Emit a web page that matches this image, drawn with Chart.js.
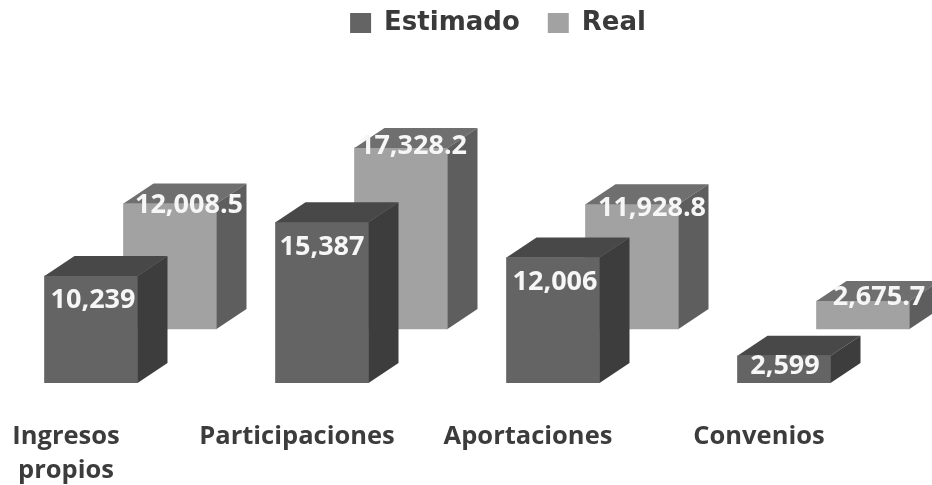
<!DOCTYPE html>
<html>
<head>
<meta charset="utf-8">
<title>Estimado vs Real</title>
<script src="https://cdn.jsdelivr.net/npm/chart.js@4/dist/chart.umd.min.js"></script>
<style>
    html, body { margin: 0; padding: 0; background: #fff; }
    canvas { display: block; filter: blur(0.5px); }
</style>
</head>
<body>
<canvas id="chart" width="932" height="485"></canvas>
<script>
// Chart data
const categories = [['Ingresos', 'propios'], ['Participaciones'], ['Aportaciones'], ['Convenios']];
const estimado = [10239, 15387, 12006, 2599];
const real = [12008.5, 17328.2, 11928.8, 2675.7];
const estimadoText = ['10,239', '15,387', '12,006', '2,599'];
const realText = ['12,008.5', '17,328.2', '11,928.8', '2,675.7'];

// Layout of the fake 3D boxes, in pixels
const plotLeft = 10, plotRight = 922, plotTop = 64, plotBottom = 383;
const catStep = 231;
const firstCenter = 91;
const backShiftX = 79, backShiftY = 54;
const depthX = 30, depthY = 20;
const pxPerUnit = 0.01045;

// Label nudges from the centre of each front face top edge [dx, dy]
const labelNudge = [
    [[2, 24], [0, 25], [2, 25], [1, 10]],
    [[19, 2], [12, -2], [20, 4], [16, -4]]
];

const faces = [
    { top: '#484848', side: '#3d3d3d' },
    { top: '#6f6f6f', side: '#5e5e5e' }
];

function toPoints(values) {
    return values.map((v, i) => ({ x: i, y: v }));
}

function polygon(ctx, pts, color) {
    ctx.fillStyle = color;
    ctx.beginPath();
    pts.forEach((p, i) => i ? ctx.lineTo(p[0], p[1]) : ctx.moveTo(p[0], p[1]));
    ctx.closePath();
    ctx.fill();
}

// Top and side faces, hung on the bars the library has placed
const boxFaces = {
    id: 'boxFaces',
    afterLayout(chart) {
        // legend sits up and right of the default spot in the original
        chart.legend.left += 32;
        chart.legend.right += 32;
        chart.legend.top -= 18;
        chart.legend.bottom -= 18;
    },
    afterDatasetDraw(chart, args) {
        const ctx = chart.ctx;
        const colors = faces[args.index];
        args.meta.data.forEach(bar => {
            const l = bar.x - bar.width / 2, r = bar.x + bar.width / 2;
            const t = bar.y, b = bar.base;
            polygon(ctx, [[l, t], [l + depthX, t - depthY], [r + depthX, t - depthY], [r, t]], colors.top);
            polygon(ctx, [[r, t], [r + depthX, t - depthY], [r + depthX, b - depthY], [r, b]], colors.side);
        });
    },
    afterDatasetsDraw(chart) {
        const ctx = chart.ctx;
        ctx.save();
        ctx.font = '700 27px "Open Sans"';
        ctx.fillStyle = '#f6f6f6';
        ctx.textAlign = 'center';
        ctx.textBaseline = 'middle';
        [estimadoText, realText].forEach((texts, d) => {
            chart.getDatasetMeta(d).data.forEach((bar, i) => {
                ctx.fillText(texts[i], bar.x + labelNudge[d][i][0], bar.y + labelNudge[d][i][1]);
            });
        });
        ctx.restore();
    }
};

new Chart(document.getElementById('chart'), {
    type: 'bar',
    data: {
        datasets: [
            {
                label: 'Estimado',
                data: toPoints(estimado),
                backgroundColor: '#646464',
                xAxisID: 'x',
                yAxisID: 'y'
            },
            {
                label: 'Real',
                data: toPoints(real),
                backgroundColor: '#a2a2a2',
                xAxisID: 'x2',
                yAxisID: 'y2'
            }
        ]
    },
    options: {
        responsive: false,
        animation: false,
        grouped: false,
        barThickness: 93,
        layout: { padding: { left: plotLeft, right: 932 - plotRight, top: 0, bottom: 0 } },
        plugins: {
            tooltip: { enabled: false },
            legend: {
                position: 'top',
                labels: {
                    boxWidth: 21,
                    boxHeight: 20,
                    padding: 28,
                    color: '#3a3a3a',
                    font: { family: '"DejaVu Sans"', size: 26, weight: 'bold' }
                }
            }
        },
        scales: {
            x: {
                type: 'linear',
                offset: false,
                min: (plotLeft - firstCenter) / catStep,
                max: (plotRight - firstCenter) / catStep,
                grid: { display: false },
                border: { display: false },
                afterBuildTicks(axis) {
                    axis.ticks = categories.map((c, i) => ({ value: i }));
                },
                afterFit(axis) {
                    axis.height = 485 - plotBottom;
                    axis.paddingLeft = 0;
                    axis.paddingRight = 0;
                },
                ticks: {
                    autoSkip: false,
                    maxRotation: 0,
                    padding: 29,
                    labelOffset: -25,
                    color: '#3c3c3c',
                    font: { family: '"Open Sans"', size: 25.5, weight: 'bold', lineHeight: 1.33 },
                    callback: value => categories[value]
                }
            },
            x2: {
                type: 'linear',
                offset: false,
                display: false,
                min: (plotLeft - firstCenter - backShiftX) / catStep,
                max: (plotRight - firstCenter - backShiftX) / catStep
            },
            y: {
                display: false,
                min: 0,
                max: (plotBottom - plotTop) / pxPerUnit
            },
            y2: {
                display: false,
                min: -backShiftY / pxPerUnit,
                max: (plotBottom - backShiftY - plotTop) / pxPerUnit
            }
        }
    },
    plugins: [boxFaces]
});
</script>
</body>
</html>
